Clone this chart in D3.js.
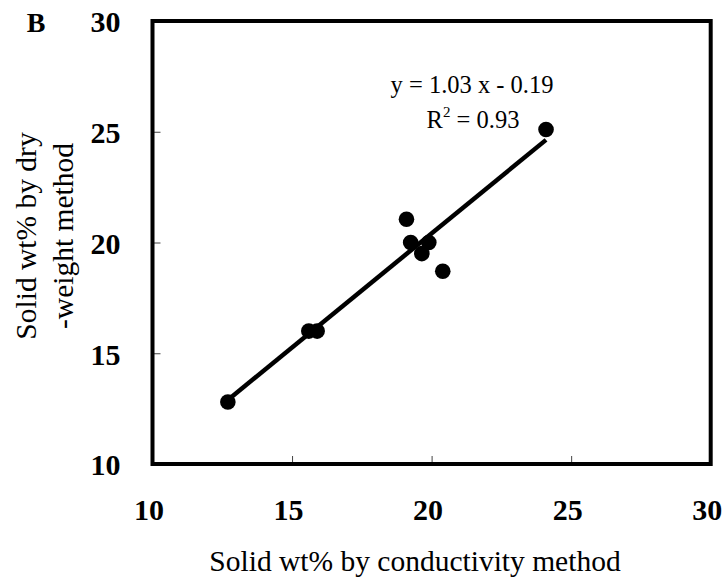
<!DOCTYPE html>
<html>
<head>
<meta charset="utf-8">
<script src="https://cdn.jsdelivr.net/npm/d3@7"></script>
<style>
  html, body { margin: 0; padding: 0; background: #fff; }
  svg { display: block; font-family: "Liberation Serif", "Times New Roman", serif; }
</style>
</head>
<body>
<svg id="chart" width="724" height="578"></svg>
<script>
// Solid content measured by conductivity (x) vs dry-weight (y), wt%
const conductivity = [12.7, 15.6, 15.9, 19.1, 19.25, 19.9, 19.65, 20.4, 24.1];
const dryWeight    = [12.8, 16.0, 16.0, 21.05, 20.0, 20.0, 19.5, 18.7, 25.1];

// Linear fit reported on the chart
const slope = 1.03;
const intercept = -0.19;
const rSquared = 0.93;

const axisDomain = [10, 30];
const tickLabels = [10, 15, 20, 25, 30];
const innerTicks = [15, 20, 25];

const W = 724, H = 578;
const margin = { left: 152.5, right: 13.3, top: 21, bottom: 114 };
const serif = "Liberation Serif, Times New Roman, serif";

const svg = d3.select("#chart");

const x = d3.scaleLinear().domain(axisDomain).range([margin.left, W - margin.right]);
const y = d3.scaleLinear().domain(axisDomain).range([H - margin.bottom, margin.top]);

// Inward tick marks on bottom and left
svg.append("g")
  .attr("transform", `translate(0,${y(axisDomain[0])})`)
  .call(d3.axisBottom(x).tickValues(innerTicks).tickSizeInner(-8).tickSizeOuter(0).tickFormat(""))
  .call(g => g.select(".domain").remove())
  .call(g => g.selectAll("line").attr("stroke", "#444").attr("stroke-width", 1));

svg.append("g")
  .attr("transform", `translate(${x(axisDomain[0])},0)`)
  .call(d3.axisLeft(y).tickValues(innerTicks).tickSizeInner(-8).tickSizeOuter(0).tickFormat(""))
  .call(g => g.select(".domain").remove())
  .call(g => g.selectAll("line").attr("stroke", "#444").attr("stroke-width", 1));

// Tick labels
svg.append("g")
  .attr("transform", `translate(0,${y(axisDomain[0])})`)
  .call(d3.axisBottom(x).tickValues(tickLabels).tickSize(0).tickFormat(d3.format("d")))
  .call(g => g.select(".domain").remove())
  .call(g => g.selectAll("text")
    .attr("y", 56).attr("dy", null).attr("dx", -4)
    .attr("font-family", serif)
    .attr("font-size", 30).attr("font-weight", "bold").attr("fill", "#000"));

svg.append("g")
  .attr("transform", `translate(${x(axisDomain[0])},0)`)
  .call(d3.axisLeft(y).tickValues(tickLabels).tickSize(0).tickFormat(d3.format("d")))
  .call(g => g.select(".domain").remove())
  .call(g => g.selectAll("text")
    .attr("x", -32).attr("dy", "0.36em")
    .attr("font-family", serif)
    .attr("font-size", 30).attr("font-weight", "bold").attr("fill", "#000"));

// Plot frame
svg.append("rect")
  .attr("x", x(axisDomain[0])).attr("y", y(axisDomain[1]))
  .attr("width", x(axisDomain[1]) - x(axisDomain[0]))
  .attr("height", y(axisDomain[0]) - y(axisDomain[1]))
  .attr("fill", "none").attr("stroke", "#000").attr("stroke-width", 4);

// Trend line across the data range
const xMin = d3.min(conductivity), xMax = d3.max(conductivity);
svg.append("line")
  .attr("x1", x(xMin)).attr("y1", y(slope * xMin + intercept))
  .attr("x2", x(xMax)).attr("y2", y(slope * xMax + intercept))
  .attr("stroke", "#000").attr("stroke-width", 4.5);

// Data points
svg.append("g").selectAll("circle")
  .data(conductivity.map((c, i) => ({ c, d: dryWeight[i] })))
  .join("circle")
  .attr("cx", p => x(p.c)).attr("cy", p => y(p.d))
  .attr("r", 7.8).attr("fill", "#000");

// Regression annotation
const eq = svg.append("g").attr("font-size", 24.5).attr("fill", "#000").attr("text-anchor", "middle");
eq.append("text").attr("x", 472).attr("y", 93)
  .text(`y = ${slope.toFixed(2)} x - ${Math.abs(intercept).toFixed(2)}`);
const r2 = eq.append("text").attr("x", 473).attr("y", 128);
r2.append("tspan").text("R");
r2.append("tspan").attr("font-size", 15).attr("dy", -11).text("2");
r2.append("tspan").attr("dy", 11).text(` = ${rSquared.toFixed(2)}`);

// Panel letter
svg.append("text").attr("x", 36).attr("y", 32).attr("text-anchor", "middle")
  .attr("font-size", 28).attr("font-weight", "bold").text("B");

// Axis titles
svg.append("text").attr("x", 415).attr("y", 571).attr("text-anchor", "middle")
  .attr("font-size", 29.5).text("Solid wt% by conductivity method");

const yTitle = svg.append("text").attr("text-anchor", "middle")
  .attr("transform", "translate(0,236) rotate(-90)").attr("font-size", 29.5);
yTitle.append("tspan").attr("x", 0).attr("y", 36).text("Solid wt% by dry");
yTitle.append("tspan").attr("x", 0).attr("y", 73).text("-weight method");
</script>
</body>
</html>
